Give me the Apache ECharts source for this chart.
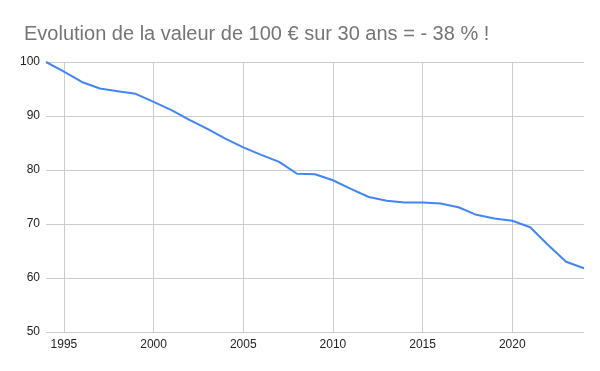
<!DOCTYPE html>
<html>
<head>
<meta charset="utf-8">
<script src="https://cdn.jsdelivr.net/npm/echarts@6/dist/echarts.min.js"></script>
<style>html,body{margin:0;padding:0;background:#fff}#c{width:600px;height:371px}</style>
</head>
<body>
<div id="c"></div>
<script>
const titleText = "Evolution de la valeur de 100 € sur 30 ans = - 38 % !";
const years = [1994,1995,1996,1997,1998,1999,2000,2001,2002,2003,2004,2005,2006,2007,2008,2009,2010,2011,2012,2013,2014,2015,2016,2017,2018,2019,2020,2021,2022,2023,2024];
const values = [100,98.2,96.3,95.1,94.6,94.1,92.6,91.1,89.3,87.6,85.8,84.2,82.8,81.5,79.3,79.2,78.1,76.5,75.0,74.3,74.0,74.0,73.8,73.1,71.7,71.0,70.6,69.4,66.1,63.0,61.8];
const xTicks = [1995,2000,2005,2010,2015,2020];
const yTicks = [50,60,70,80,90,100];

const chart = echarts.init(document.getElementById('c'), null, {renderer:'canvas'});
chart.setOption({
  animation:false,
  title:{text:titleText,left:19,top:19,textStyle:{fontFamily:'Liberation Sans, Arial, sans-serif',fontSize:20,fontWeight:'normal',color:'#757575'}},
  grid:{left:46,right:16,top:62,height:270,containLabel:false},
  xAxis:{type:'value',min:years[0],max:years[years.length-1],
    axisLine:{show:false},
    axisTick:{show:false,customValues:xTicks},
    axisLabel:{customValues:xTicks,formatter:v=>String(v),color:'#222',fontFamily:'Liberation Sans, Arial, sans-serif',fontSize:12,margin:7},
    splitLine:{show:true,lineStyle:{color:'#cccccc',width:1}}},
  yAxis:{type:'value',min:yTicks[0],max:yTicks[yTicks.length-1],interval:10,
    axisLine:{show:false},axisTick:{show:false},
    axisLabel:{formatter:v=>String(v),color:'#222',fontFamily:'Liberation Sans, Arial, sans-serif',fontSize:12,margin:6},
    splitLine:{show:true,lineStyle:{color:'#cccccc',width:1}}},
  series:[{type:'line',data:years.map((y,i)=>[y,values[i]]),showSymbol:false,
    lineStyle:{color:'#4285F4',width:2},itemStyle:{color:'#4285F4'}}]
});
</script>
</body>
</html>
